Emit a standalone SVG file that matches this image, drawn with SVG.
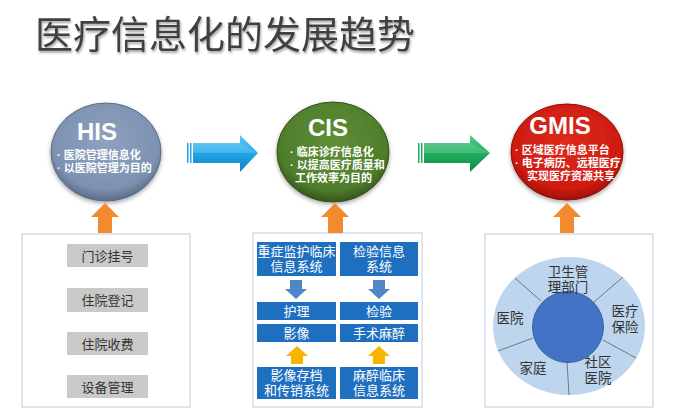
<svg xmlns="http://www.w3.org/2000/svg" width="677" height="415" viewBox="0 0 677 415">
  <defs>
    <style>
      .title { font-family: "Liberation Sans", "Noto Sans CJK SC", sans-serif; font-size: 38px; fill: #404040; }
      .head { font-family: "Liberation Sans", "Noto Sans CJK SC", sans-serif; font-weight: bold; font-size: 24px; fill: #ffffff; text-anchor: middle; }
      .bul { font-family: "Liberation Sans", "Noto Sans CJK SC", sans-serif; font-weight: bold; font-size: 11px; fill: #ffffff; }
      .gray { fill: #c9c9c9; }
      .gtxt { font-family: "Liberation Sans", "Noto Sans CJK SC", sans-serif; font-size: 13px; fill: #333333; text-anchor: middle; }
      .panel { fill: #ffffff; stroke: #c9d3e6; stroke-width: 1.2; }
      .blue { fill: #1f6fc0; }
      .wtxt { font-family: "Liberation Sans", "Noto Sans CJK SC", sans-serif; font-size: 13px; fill: #ffffff; text-anchor: middle; }
      .dtxt { font-family: "Liberation Sans", "Noto Sans CJK SC", sans-serif; font-size: 13.5px; fill: #333333; text-anchor: middle; }
      .div { stroke: #6f7783; stroke-width: 1; }
      .up { fill: #f28a2e; }
    </style>
    <filter id="tsh" x="-5%" y="-20%" width="110%" height="140%">
      <feDropShadow dx="1" dy="2" stdDeviation="1" flood-color="#000" flood-opacity="0.35"/>
    </filter>
    <filter id="csh" x="-20%" y="-20%" width="140%" height="140%">
      <feDropShadow dx="0" dy="2" stdDeviation="2" flood-color="#000" flood-opacity="0.35"/>
    </filter>
    <radialGradient id="gHIS" cx="50%" cy="40%" r="60%">
      <stop offset="0" stop-color="#8ea2bf"/>
      <stop offset="0.8" stop-color="#7d92b1"/>
      <stop offset="1" stop-color="#5b6d8a"/>
    </radialGradient>
    <radialGradient id="gCIS" cx="50%" cy="40%" r="60%">
      <stop offset="0" stop-color="#5f8f38"/>
      <stop offset="0.8" stop-color="#4f7d2b"/>
      <stop offset="1" stop-color="#35561c"/>
    </radialGradient>
    <radialGradient id="gGMIS" cx="50%" cy="40%" r="60%">
      <stop offset="0" stop-color="#de2a1c"/>
      <stop offset="0.8" stop-color="#cf1c10"/>
      <stop offset="1" stop-color="#9e0f08"/>
    </radialGradient>
    <linearGradient id="gBlue" x1="0" y1="0" x2="0" y2="1">
      <stop offset="0" stop-color="#5fcaf6"/>
      <stop offset="0.5" stop-color="#1fa6e8"/>
      <stop offset="1" stop-color="#0f80c6"/>
    </linearGradient>
    <linearGradient id="gGreen" x1="0" y1="0" x2="0" y2="1">
      <stop offset="0" stop-color="#4fd08a"/>
      <stop offset="0.5" stop-color="#1fae5c"/>
      <stop offset="1" stop-color="#0f8a45"/>
    </linearGradient>
  </defs>

  <rect width="677" height="415" fill="#ffffff"/>

  <!-- title -->
  <text class="title" x="35" y="48" filter="url(#tsh)">医疗信息化的发展趋势</text>

  <!-- stage nodes -->
  <g id="his">
    <ellipse cx="106" cy="152" rx="55" ry="49" fill="url(#gHIS)" stroke="#5b6b85" stroke-width="1" filter="url(#csh)"/>
    <text class="head" x="97" y="140">HIS</text>
    <text class="bul"><tspan x="57" y="159">· 医院管理信息化</tspan><tspan x="57" y="172">· 以医院管理为目的</tspan></text>
  </g>

  <g id="cis">
    <ellipse cx="333" cy="152" rx="56" ry="50" fill="url(#gCIS)" stroke="#33521a" stroke-width="1" filter="url(#csh)"/>
    <text class="head" x="328" y="136">CIS</text>
    <text class="bul"><tspan x="290" y="156">· 临床诊疗信息化</tspan><tspan x="290" y="169">· 以提高医疗质量和</tspan><tspan x="295" y="182">工作效率为目的</tspan></text>
  </g>

  <g id="gmis">
    <ellipse cx="567" cy="152" rx="56" ry="48" fill="url(#gGMIS)" stroke="#8e0d07" stroke-width="1" filter="url(#csh)"/>
    <text class="head" x="560" y="134">GMIS</text>
    <text class="bul"><tspan x="515" y="154">· 区域医疗信息平台</tspan><tspan x="515" y="167">· 电子病历、远程医疗</tspan><tspan x="527" y="180">实现医疗资源共享</tspan></text>
  </g>

  <!-- HIS modules -->
  <g id="his-panel">
    <rect class="panel" x="22" y="234" width="168" height="173"/>
    <rect class="gray" x="67" y="244" width="81" height="23"/>
    <text class="gtxt" x="107.5" y="260.5">门诊挂号</text>
    <rect class="gray" x="67" y="288" width="81" height="24"/>
    <text class="gtxt" x="107.5" y="305">住院登记</text>
    <rect class="gray" x="67" y="332" width="81" height="23"/>
    <text class="gtxt" x="107.5" y="348.5">住院收费</text>
    <rect class="gray" x="67" y="375" width="81" height="23"/>
    <text class="gtxt" x="107.5" y="391.5">设备管理</text>
  </g>

  <!-- CIS subsystems -->
  <g id="cis-panel">
    <rect class="panel" x="253" y="233" width="169" height="174"/>
    <rect class="blue" x="257" y="242" width="79" height="34"/>
    <text class="wtxt"><tspan x="296.5" y="256">重症监护临床</tspan><tspan x="296.5" y="271">信息系统</tspan></text>
    <rect class="blue" x="340" y="242" width="78" height="34"/>
    <text class="wtxt"><tspan x="379" y="256">检验信息</tspan><tspan x="379" y="271">系统</tspan></text>

    <path d="M290 280 H302 V289 H307 L296 299 L285 289 H290 Z" fill="#4f86c6"/>
    <path d="M373 280 H385 V289 H390 L379 299 L368 289 H373 Z" fill="#4f86c6"/>

    <rect class="blue" x="257" y="302" width="79" height="18"/>
    <text class="wtxt" x="296.5" y="315.5">护理</text>
    <rect class="blue" x="340" y="302" width="78" height="18"/>
    <text class="wtxt" x="379" y="315.5">检验</text>
    <rect class="blue" x="257" y="324" width="79" height="18"/>
    <text class="wtxt" x="296.5" y="337.5">影像</text>
    <rect class="blue" x="340" y="324" width="78" height="18"/>
    <text class="wtxt" x="379" y="337.5">手术麻醉</text>

    <path d="M297 346 L308 356 H303 V364 H291 V356 H286 Z" fill="#f7b500"/>
    <path d="M379 346 L390 356 H385 V364 H373 V356 H368 Z" fill="#f7b500"/>

    <rect class="blue" x="257" y="367" width="79" height="32"/>
    <text class="wtxt"><tspan x="296.5" y="380">影像存档</tspan><tspan x="296.5" y="395">和传销系统</tspan></text>
    <rect class="blue" x="340" y="367" width="78" height="32"/>
    <text class="wtxt"><tspan x="379" y="380">麻醉临床</tspan><tspan x="379" y="395">信息系统</tspan></text>
  </g>

  <!-- GMIS participants -->
  <g id="gmis-panel">
    <rect class="panel" x="485" y="234" width="168" height="173"/>
    <ellipse cx="569" cy="326" rx="76" ry="69" fill="#bdd6ee"/>
    <line class="div" x1="515" y1="278" x2="541" y2="301"/>
    <line class="div" x1="623" y1="277" x2="594" y2="302"/>
    <line class="div" x1="603" y1="340" x2="636" y2="358"/>
    <line class="div" x1="567" y1="362" x2="569" y2="395"/>
    <line class="div" x1="533" y1="338" x2="498" y2="351"/>
    <circle cx="568" cy="327" r="35.5" fill="#4472c4" stroke="#3a62a8" stroke-width="1"/>
    <text class="dtxt"><tspan x="568" y="277">卫生管</tspan><tspan x="568" y="292">理部门</tspan></text>
    <text class="dtxt"><tspan x="625" y="316">医疗</tspan><tspan x="625" y="332">保险</tspan></text>
    <text class="dtxt" x="510" y="323">医院</text>
    <text class="dtxt" x="533" y="373">家庭</text>
    <text class="dtxt"><tspan x="598" y="367">社区</tspan><tspan x="598" y="383">医院</tspan></text>
  </g>

  <!-- connectors -->
  <g id="connectors">
    <!-- HIS to CIS -->
    <path d="M193 143 H240 V135 L258 153 L240 172 V163 H193 Z" fill="url(#gBlue)"/>
    <rect x="187" y="143" width="1.5" height="20" fill="#1fa6e8"/>
    <rect x="190" y="143" width="1.5" height="20" fill="#1fa6e8"/>
    <path d="M193 143 H240 L258 153 H193 Z" fill="#ffffff" opacity="0.15"/>
    <!-- CIS to GMIS -->
    <path d="M424 143 H470 V135 L490 153 L470 172 V163 H424 Z" fill="url(#gGreen)"/>
    <rect x="418" y="143" width="1.5" height="20" fill="#1fae5c"/>
    <rect x="421" y="143" width="1.5" height="20" fill="#1fae5c"/>
    <path d="M424 143 H470 L490 153 H424 Z" fill="#ffffff" opacity="0.15"/>
    <!-- panels feeding the stages -->
    <path class="up" d="M105 203 L119 217 H112 V233 H98 V217 H91 Z"/>
    <path class="up" d="M335 203 L349 217 H343 V233 H328 V217 H321 Z"/>
    <path class="up" d="M567 203 L581 217 H574 V233 H560 V217 H553 Z"/>
  </g>
</svg>
